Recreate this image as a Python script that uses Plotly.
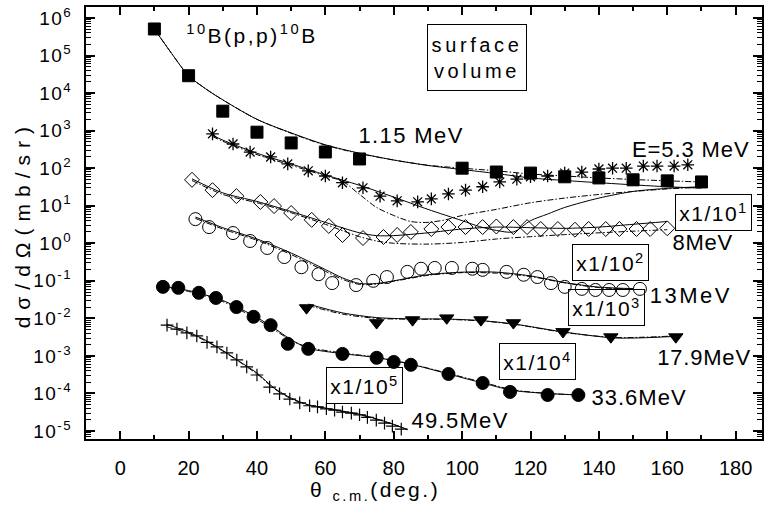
import json
import math
import plotly.graph_objects as go

# ---------------- data ----------------
# 1.15 MeV (filled squares)
sq_x = [10, 20, 30, 40, 50, 60, 70, 100, 110, 120, 130, 140, 150, 160, 170]
sq_y = [5.1e5, 2.9e4, 3.3e3, 910, 470, 270, 176, 100, 79, 74, 59, 55, 49, 46, 43]
# 5.3 MeV (asterisks)
star_x = [27, 33, 38, 44, 49, 55, 60, 65, 71, 76, 81, 87, 91, 96, 101, 106, 111, 116,
          120, 125, 130, 135, 140, 144, 148, 153, 157, 162, 166]
star_y = [820, 440, 268, 199, 130, 85, 62, 41, 30, 18, 13.5, 12.7, 15.2, 20.6, 26, 32, 43, 51,
          59, 62, 74, 79, 95, 100, 100, 114, 114, 114, 123]
# 8 MeV x1/10 (open diamonds)
dia_x = [21, 27, 34, 41, 45, 50, 56, 61, 65, 71, 77, 81, 85, 91, 96, 101, 106, 110, 115, 119,
         123, 128, 133, 137, 142, 146, 151, 155, 160]
dia_y = [49, 26, 18, 12.6, 9.8, 6.4, 4.2, 2.9, 1.66, 1.38, 1.47, 1.66, 2.0, 2.4, 2.7, 2.7, 2.7,
         2.8, 2.7, 2.7, 2.4, 2.4, 2.3, 2.4, 2.4, 2.4, 2.4, 2.4, 2.5]
# 13 MeV x1/10^2 (open circles)
cir_x = [22, 26, 33, 38, 43, 48, 53, 58, 62, 69, 74, 78, 84, 88, 92, 97, 103, 106, 113, 118,
         122, 126, 130, 135, 139, 143, 147, 152]
cir_y = [4.4, 2.7, 1.87, 1.15, 0.75, 0.43, 0.23, 0.15, 0.087, 0.077, 0.10, 0.126, 0.173, 0.21,
         0.22, 0.22, 0.21, 0.196, 0.173, 0.145, 0.126, 0.087, 0.069, 0.061, 0.057, 0.057, 0.057, 0.061]
# 17.9 MeV x1/10^3 (filled down triangles)
tri_x = [54.5, 75, 85.5, 95.5, 105.5, 115, 129.5, 143.5, 162.5]
tri_y = [0.019, 0.0076, 0.0091, 0.0102, 0.0091, 0.0076, 0.0044, 0.0032, 0.0032]
# 33.6 MeV x1/10^4 (filled circles)
fc_x = [12.5, 17, 23, 28, 34, 39, 44, 49, 55, 65, 75, 80, 85, 96, 106, 114, 125, 134]
fc_y = [0.069, 0.065, 0.048, 0.035, 0.020, 0.011, 0.0066, 0.0021, 0.00154, 0.00113, 0.00089,
        0.00069, 0.00058, 0.00033, 0.00019, 0.00011, 0.000091, 0.000091]
# 49.5 MeV x1/10^5 (crosses)
cr_x = [13.7, 16.6, 19.5, 22.4, 25.4, 28.3, 31.2, 34.1, 37, 40, 43.7, 46.6, 49.6, 52.5, 55.4,
        57.7, 60.3, 62.7, 65, 67.6, 70, 72.3, 74.9, 77.3, 79.6, 82.2]
cr_y = [6.6e-3, 5.2e-3, 4.1e-3, 3.4e-3, 2.3e-3, 1.74e-3, 1.2e-3, 7.8e-4, 5.1e-4, 3.1e-4, 1.48e-4,
        9.8e-5, 7.1e-5, 5.6e-5, 4.7e-5, 4.4e-5, 3.9e-5, 3.6e-5, 3.2e-5, 3.0e-5, 2.7e-5, 2.3e-5,
        1.95e-5, 1.62e-5, 1.35e-5, 1.12e-5]

# theory curves: surface (solid) and volume (dash-dot)
c115_x = [10, 15, 20, 25, 30, 40, 50, 60, 70, 80, 90, 100, 110, 120, 130, 140, 150, 160, 170]
c115_s = [5.1e5, 1.15e5, 2.9e4, 1.3e4, 6.6e3, 2.0e3, 870, 420, 250, 165, 118, 92, 72, 55, 47, 41, 36, 32, 29.5]
c115_v = [5.1e5, 1.15e5, 2.9e4, 1.3e4, 6.6e3, 2.0e3, 850, 410, 245, 165, 120, 100, 85, 70, 62, 55, 50, 46, 43]

c53s_x = [27, 30, 40, 50, 60, 70, 80, 90, 100, 105, 110, 115, 120, 125, 130, 140, 150, 160, 170]
c53s_y = [750, 560, 250, 130, 66, 35, 17, 8, 4, 2.8, 2.2, 2.0, 4.0, 6, 9, 16, 24, 29, 32]
c53v_x = [27, 30, 40, 50, 60, 65, 70, 75, 80, 85, 90, 95, 100, 110, 120, 130, 140, 150, 160, 170]
c53v_y = [700, 520, 230, 120, 62, 45, 20, 9, 5.5, 3.8, 3.6, 4.2, 5.5, 8, 12, 16, 20, 24, 28, 31]

c8_x = [21, 30, 40, 50, 60, 70, 75, 80, 90, 100, 110, 120, 130, 140, 150, 160]
c8_s = [52, 22, 13, 7, 3.6, 1.9, 1.6, 1.6, 1.9, 2.4, 2.7, 2.6, 2.5, 2.7, 3.2, 3.8]
c8_v = [47, 20, 12, 6.5, 3.2, 1.5, 1.15, 1.0, 0.95, 1.05, 1.3, 1.5, 1.7, 1.9, 2.1, 2.3]

c13_x = [22, 30, 40, 50, 60, 65, 70, 75, 80, 90, 100, 110, 120, 130, 140, 150]
c13_s = [5.0, 2.6, 1.3, 0.55, 0.2, 0.12, 0.085, 0.085, 0.1, 0.145, 0.17, 0.17, 0.135, 0.09, 0.068, 0.062]
c13_v = [4.6, 2.4, 1.2, 0.5, 0.18, 0.11, 0.08, 0.082, 0.097, 0.14, 0.165, 0.16, 0.13, 0.088, 0.066, 0.06]

c179_x = [55, 65, 75, 85, 95, 105, 115, 130, 145, 162]
c179_s = [0.024, 0.014, 0.0105, 0.0097, 0.0096, 0.0088, 0.0071, 0.0043, 0.0030, 0.0033]
c179_v = [0.022, 0.013, 0.0100, 0.0095, 0.0094, 0.0086, 0.0070, 0.0042, 0.0031, 0.0034]

c336_x = [12.5, 20, 30, 40, 45, 50, 55, 65, 75, 85, 95, 105, 115, 125, 135]
c336_s = [0.072, 0.055, 0.03, 0.0105, 0.0055, 0.0027, 0.0016, 0.00115, 0.0009, 0.0006, 0.00035,
          0.0002, 0.00012, 0.0001, 0.00009]
c336_v = [0.068, 0.052, 0.028, 0.0095, 0.005, 0.0026, 0.0017, 0.0012, 0.00092, 0.00061, 0.00036,
          0.00021, 0.000125, 0.0001, 0.000092]

c495_x = [13.5, 20, 25, 30, 35, 40, 45, 50, 55, 60, 65, 70, 75, 80, 84]
c495_s = [7e-3, 4.3e-3, 2.6e-3, 1.4e-3, 7e-4, 3.5e-4, 1.4e-4, 7.5e-5, 5e-5, 4.1e-5, 3.4e-5, 2.8e-5,
          2.1e-5, 1.5e-5, 1.1e-5]
c495_v = [6e-3, 4.0e-3, 2.5e-3, 1.35e-3, 6.8e-4, 3.3e-4, 1.35e-4, 7.2e-5, 4.9e-5, 4.0e-5, 3.3e-5,
          2.7e-5, 2.05e-5, 1.48e-5, 1.08e-5]

y_tick_exp = [6, 5, 4, 3, 2, 1, 0, -1, -2, -3, -4, -5]
x_ticks = [0, 20, 40, 60, 80, 100, 120, 140, 160, 180]

FONT = "Liberation Sans, Arial, sans-serif"

fig = go.Figure()

def curve(x, y, dash):
    fig.add_trace(go.Scatter(x=x, y=y, mode="lines", line=dict(color="black", width=1, dash=dash,
                  shape="spline", smoothing=0.8), showlegend=False, hoverinfo="skip"))

DD = "6px,2px,1.5px,2px"
curve(c115_x, c115_s, "solid"); curve(c115_x, c115_v, DD)
curve(c53s_x, c53s_y, "solid"); curve(c53v_x, c53v_y, DD)
curve(c8_x, c8_s, "solid"); curve(c8_x, c8_v, DD)
curve(c13_x, c13_s, "solid"); curve(c13_x, c13_v, DD)
curve(c179_x, c179_s, "solid"); curve(c179_x, c179_v, DD)
curve(c336_x, c336_s, "solid"); curve(c336_x, c336_v, DD)
curve(c495_x, c495_s, "solid"); curve(c495_x, c495_v, DD)

def pts(x, y, symbol, size, fill="black", lw=1):
    fig.add_trace(go.Scatter(x=x, y=y, mode="markers", showlegend=False,
                  marker=dict(symbol=symbol, size=size, color=fill,
                              line=dict(color="black", width=lw))))

pts(sq_x, sq_y, "square", 12)
pts(star_x, star_y, "asterisk-open", 10.5, lw=1.3)
pts(dia_x, dia_y, "diamond-open", 11.5, lw=1)
pts(cir_x, cir_y, "circle-open", 13, lw=1)
pts(tri_x, tri_y, "triangle-down", 12.5)
pts(fc_x, fc_y, "circle", 13)
pts(cr_x, cr_y, "cross-thin-open", 9, lw=1.2)

ann = []
spacing = []
def txt(x, ly, s, size=22, box=False, ls=1.0, **kw):
    d = dict(x=x, y=ly, xref="x", yref="y", text=s, showarrow=False,
             font=dict(family=FONT, size=size, color="black"), xanchor="center", yanchor="middle")
    if box:
        d.update(bordercolor="black", borderwidth=1, borderpad=1, width=73, height=33,
                 bgcolor="rgba(255,255,255,0)")
    d.update(kw)
    ann.append(d)
    spacing.append(ls)

txt(38.4, 5.57, "<sup>10</sup>B(p,p)<sup>10</sup>B", size=21, ls=2.5)
txt(104.4, 4.95, "surface<br>volume", size=20, box=True, width=96, height=63, ls=3.6)
txt(85.1, 2.86, "1.15 MeV", ls=1.4)
txt(166.8, 2.51, "E=5.3 MeV", ls=0.9)
txt(173.5, 0.81, "x1/10<sup>1</sup>", size=21, box=True, ls=1.5)
txt(170.3, 0.01, "8MeV", ls=0.8)
txt(143.4, -0.50, "x1/10<sup>2</sup>", size=21, box=True, ls=1.5)
txt(167.0, -1.38, "13MeV", ls=2.5)
txt(142.3, -1.70, "x1/10<sup>3</sup>", size=21, box=True, ls=1.5)
txt(170.8, -3.05, "17.9MeV", ls=0.8)
txt(121.9, -3.16, "x1/10<sup>4</sup>", size=21, box=True, ls=1.5)
txt(151.6, -4.12, "33.6MeV", ls=1.0)
txt(71.4, -3.80, "x1/10<sup>5</sup>", size=21, box=True, ls=1.5)
txt(99.4, -4.71, "49.5MeV", ls=1.3)

# axis titles
ann.append(dict(x=74.6, y=-0.121, xref="x", yref="paper", showarrow=False,
                text="θ <sub>c.m.</sub>(deg.)", font=dict(family=FONT, size=21, color="black"),
                xanchor="center", yanchor="middle"))
spacing.append(2.5)
ann.append(dict(x=-0.094, y=0.498, xref="paper", yref="paper", showarrow=False, textangle=-90,
                text="dσ/dΩ(mb/sr)", font=dict(family=FONT, size=21, color="black"),
                xanchor="center", yanchor="middle"))
spacing.append(7.0)

fig.update_layout(
    width=767, height=505,
    margin=dict(l=86, r=3, t=7, b=66),
    paper_bgcolor="white", plot_bgcolor="white",
    font=dict(family=FONT, size=17, color="black"),
    annotations=ann,
    showlegend=False,
)
fig.update_xaxes(range=[-10, 187.7], showgrid=False, zeroline=False, showline=True,
                 linecolor="black", linewidth=2, mirror="ticks", ticks="inside", ticklen=8,
                 tickwidth=1.5, tickcolor="black", tickvals=x_ticks,
                 ticktext=[str(v) for v in x_ticks], ticklabelstandoff=10,
                 tickfont=dict(family=FONT, size=20, color="black"),
                 minor=dict(ticks="inside", ticklen=4, tickwidth=1.5, tickcolor="black",
                            dtick=10, tick0=0, showgrid=False))
fig.update_yaxes(type="log", range=[-5.213, 6.293], showgrid=False, zeroline=False, showline=True,
                 linecolor="black", linewidth=2, mirror="ticks", ticks="inside", ticklen=9,
                 tickwidth=1.5, tickcolor="black",
                 tickvals=[10.0 ** e for e in y_tick_exp],
                 ticktext=["10<sup>%d</sup>" % e for e in y_tick_exp], ticklabelstandoff=8,
                 tickfont=dict(family=FONT, size=19, color="black"),
                 minor=dict(ticks="inside", ticklen=5, tickwidth=1, tickcolor="black",
                            dtick="D1", showgrid=False))

# letter spacing (the original figure uses widely spaced lettering)
post_js = """
var gd = document.getElementById('{plot_id}');
var SP = %s;
function spaceText(){
  var groups = gd.querySelectorAll('g.annotation');
  groups.forEach(function(g, k){
    var i = g.getAttribute('data-index');
    i = (i === null) ? k : parseInt(i, 10);
    var t = g.querySelector('text.annotation-text');
    if (t && SP[i]) { t.style.letterSpacing = SP[i] + 'px'; }
  });
  gd.querySelectorAll('g.ytick text').forEach(function(t){ t.style.letterSpacing = '1.5px'; });
}
spaceText();
setTimeout(spaceText, 30);
""" % json.dumps(spacing)

fig.write_html("out.html", post_script=post_js)
